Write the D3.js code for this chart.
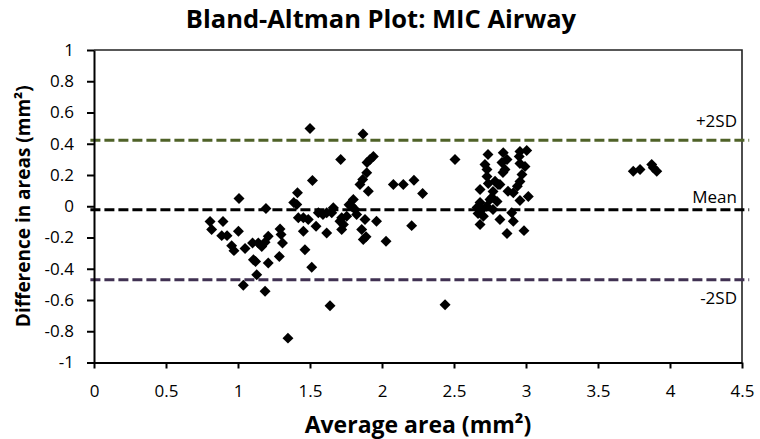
<!DOCTYPE html>
<html>
<head>
<meta charset="utf-8">
<script src="https://cdn.jsdelivr.net/npm/d3@7"></script>
<style>
  html, body { margin: 0; padding: 0; background: #fff; }
  svg { display: block; }
  text { font-family: "Open Sans", Lato, sans-serif; fill: #000; }
</style>
</head>
<body>
<svg id="chart" width="760" height="439"></svg>
<script>
// Average of the two measurements (mm²)
const avgArea = [
  0.806, 0.817, 0.896, 0.887, 0.924, 0.956, 0.972, 1.003, 1.007, 1.049,
  1.037, 1.101, 1.107, 1.122, 1.130, 1.141, 1.165, 1.188, 1.210, 1.194,
  1.210, 1.188, 1.292, 1.299, 1.309, 1.287, 1.347,
  1.413, 1.408, 1.419, 1.454, 1.488, 1.454, 1.465, 1.512, 1.500, 1.517,
  1.542, 1.558, 1.616, 1.616, 1.639, 1.662, 1.713, 1.720, 1.732, 1.720,
  1.755, 1.790, 1.801, 1.813, 1.824, 1.847, 1.866, 1.868, 1.894, 1.905,
  1.917, 1.940, 1.882, 1.859, 1.870, 1.889, 1.962, 1.651, 1.590, 1.708,
  1.387, 1.896, 1.771,
  2.079, 2.148, 2.222, 2.282, 2.206, 2.028, 2.507, 2.438,
  2.736, 2.842, 2.958, 3.005, 2.953, 2.715, 2.729, 2.833, 2.868, 2.958,
  2.993, 2.729, 2.738, 2.840, 2.819, 2.972, 2.958, 2.681, 2.771, 2.764,
  2.875, 2.912, 3.016, 2.958, 2.681, 2.694, 2.704, 2.681, 2.771, 2.799,
  2.819, 2.901, 2.912, 2.868, 2.986, 2.660, 2.727, 2.750, 2.806, 2.785,
  2.940, 2.854, 2.667,
  3.745, 3.792, 3.873, 3.884, 3.908
];

// Difference between the two measurements (mm²)
const diffArea = [
  -0.098, -0.149, -0.098, -0.188, -0.188, -0.252, -0.284, -0.160, 0.049, -0.271,
  -0.505, -0.235, -0.342, -0.354, -0.438, -0.235, -0.258, -0.231, -0.192, -0.015,
  -0.363, -0.544, -0.145, -0.181, -0.235, -0.321, -0.844,
  0.086, 0.011, -0.074, -0.074, -0.085, -0.160, -0.278, -0.390, 0.497, 0.165,
  -0.128, -0.042, -0.042, -0.171, -0.637, -0.010, 0.299, -0.074, -0.117, -0.149,
  -0.064, 0.000, 0.043, -0.021, -0.053, 0.139, 0.171, 0.463, 0.214, 0.096,
  0.299, 0.319, -0.085, -0.149, -0.213, -0.195, -0.096, -0.042, -0.053, -0.096,
  0.024, 0.280, 0.010,
  0.139, 0.139, 0.167, 0.081, -0.124, -0.224, 0.299, -0.630,
  0.331, 0.342, 0.351, 0.357, 0.319, 0.267, 0.235, 0.280, 0.299, 0.274,
  0.254, 0.190, 0.146, 0.216, 0.139, 0.203, 0.158, 0.107, 0.094, 0.056,
  0.096, 0.086, 0.062, 0.037, 0.024, -0.021, -0.064, -0.117, -0.021, 0.030,
  -0.085, -0.042, -0.096, -0.175, -0.156, -0.008, 0.000, 0.043, 0.139, 0.160,
  0.128, 0.235, -0.047,
  0.224, 0.235, 0.267, 0.246, 0.224
];

// Reference lines: mean difference and limits of agreement
const refNames  = ["+2SD", "Mean", "-2SD"];
const refValues = [0.423, -0.023, -0.47];
const refColors = ["#4f6228", "#000000", "#403152"];

const xTicks = [0, 0.5, 1, 1.5, 2, 2.5, 3, 3.5, 4, 4.5];
const yTicks = [1, 0.8, 0.6, 0.4, 0.2, 0, -0.2, -0.4, -0.6, -0.8, -1];

const titleText = "Bland-Altman Plot: MIC Airway";
const xTitle = "Average area (mm²)";
const yTitle = "Difference in areas (mm²)";

const svg = d3.select("#chart");
const plot = { left: 94, right: 742, top: 50, bottom: 362.5 };

const x = d3.scaleLinear().domain([0, 4.5]).range([plot.left, plot.right]);
const y = d3.scaleLinear().domain([-1, 1]).range([plot.bottom, plot.top]);

// plot frame (top and right edges)
svg.append("path")
  .attr("d", `M${x(0)},${y(1)}H${x(4.5)}V${y(-1)}`)
  .attr("fill", "none")
  .attr("stroke", "#222")
  .attr("stroke-width", 1.6);

// reference lines
svg.append("g").selectAll("line")
  .data(refValues)
  .join("line")
  .attr("x1", x(-0.025))
  .attr("x2", x(4.55))
  .attr("y1", d => y(d))
  .attr("y2", d => y(d))
  .attr("stroke", (d, i) => refColors[i])
  .attr("stroke-width", 3)
  .attr("stroke-dasharray", "10,4");

// points as diamonds
const diamond = d3.symbol().type(d3.symbolSquare).size(60);
svg.append("g").selectAll("path")
  .data(avgArea.map((a, i) => [a, diffArea[i]]))
  .join("path")
  .attr("d", diamond)
  .attr("transform", d => `translate(${x(d[0])},${y(d[1])}) rotate(45)`)
  .attr("fill", "#000");

// axes
const fmt = d => String(d);
const xAxis = svg.append("g")
  .attr("transform", `translate(0,${plot.bottom})`)
  .call(d3.axisBottom(x).tickValues(xTicks).tickFormat(fmt).tickSize(6).tickPadding(16).tickSizeOuter(0));
const yAxis = svg.append("g")
  .attr("transform", `translate(${plot.left},0)`)
  .call(d3.axisLeft(y).tickValues(yTicks).tickFormat(fmt).tickSize(7).tickPadding(13).tickSizeOuter(0));

[xAxis, yAxis].forEach(g => {
  g.select(".domain").attr("stroke", "#000").attr("stroke-width", 2);
  g.selectAll(".tick line").attr("stroke", "#000").attr("stroke-width", 2);
  g.selectAll(".tick text")
    .attr("font-family", "'Open Sans', Lato, sans-serif")
    .attr("font-size", 17)
    .attr("fill", "#222");
});

// reference line labels
const labelDy = [-13, -7, 24];
svg.append("g").selectAll("text")
  .data(refNames)
  .join("text")
  .attr("x", 737)
  .attr("y", (d, i) => y(refValues[i]) + labelDy[i])
  .attr("text-anchor", "end")
  .attr("font-size", 17)
  .attr("fill", "#222")
  .text(d => d);

// titles
svg.append("text")
  .attr("x", 381).attr("y", 28)
  .attr("text-anchor", "middle")
  .attr("font-weight", "bold")
  .attr("font-size", 25.5)
  .text(titleText);

svg.append("text")
  .attr("x", 418).attr("y", 433)
  .attr("text-anchor", "middle")
  .attr("font-weight", "bold")
  .attr("font-size", 23)
  .text(xTitle);

svg.append("text")
  .attr("transform", `translate(30,${(plot.top + plot.bottom) / 2}) rotate(-90)`)
  .attr("text-anchor", "middle")
  .attr("font-weight", "bold")
  .attr("font-size", 19)
  .text(yTitle);
</script>
</body>
</html>
